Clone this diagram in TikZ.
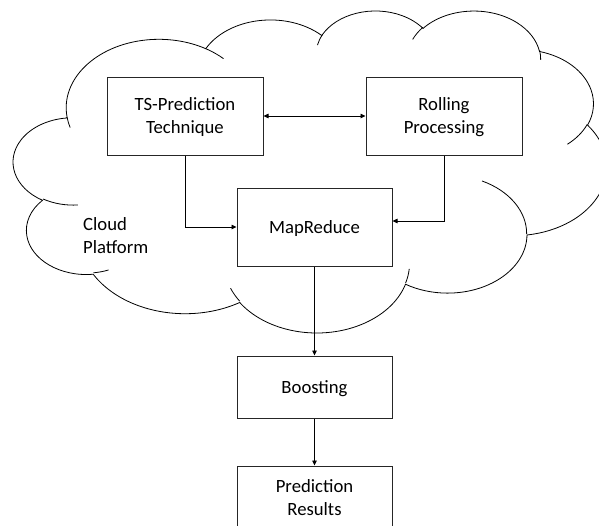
\documentclass[tikz,border=0pt]{standalone}
\usepackage{fontspec}
\setmainfont{Carlito}
\usetikzlibrary{arrows.meta}

% Turns an Office-style elliptical arc (radii, start angle and sweep measured
% as visual angles) into a TikZ arc style with parametric angles.
\newcommand\cldprep[5]{%
  \pgfmathsetmacro\cldts{atan2((#2)*sin(#4),(#3)*cos(#4))}%
  \pgfmathsetmacro\cldte{atan2((#2)*sin((#4)+(#5)),(#3)*cos((#4)+(#5)))}%
  \pgfmathsetmacro\cldd{Mod(\cldte-\cldts,360)}%
  \edef\cldtmp{\noexpand\tikzset{#1/.style={x radius=#2, y radius=#3,
      start angle=\cldts, delta angle=\cldd}}}%
  \cldtmp}

\tikzset{
  blk/.style={draw=black!85, line width=1pt, fill=white, align=center,
    font=\fontsize{18.7}{23}\selectfont, inner sep=0pt, text depth=0pt},
  conn/.style={line width=0.8pt, -{Triangle[length=5pt,width=4.5pt]}},
  biconn/.style={line width=0.8pt, {Triangle[length=5pt,width=4.5pt]}-{Triangle[length=5pt,width=4.5pt]}},
}

\begin{document}
\begin{tikzpicture}[x=1pt,y=-1pt]
\useasboundingbox (0,0) rectangle (599,525);
\clip (0,0) rectangle (599,525);
\fill[white] (0,0) rectangle (599,525);

% cloud outline and its inner lobe strokes
\begin{scope}[shift={(13.5pt,-9.93pt)}, x=1.3728pt, y=-0.7451pt, line width=0.8pt]
  \cldprep{cA}{67.53}{91.90}{-190.4875}{123.7805}
  \cldprep{cB}{53.33}{72.67}{-144.1024}{89.9452}
  \cldprep{cC}{43.65}{59.45}{-145.8079}{99.7230}
  \cldprep{cD}{48.57}{65.95}{-130.9861}{117.2417}
  \cldprep{cE}{53.33}{72.73}{-78.7089}{109.0269}
  \cldprep{cF}{67.75}{92.20}{-46.2673}{130.2690}
  \cldprep{cG}{57.85}{78.67}{0.6250}{114.0333}
  \cldprep{cH}{67.52}{92.15}{22.4516}{115.1726}
  \cldprep{cI}{77.20}{105.43}{66.2426}{75.7110}
  \cldprep{cJ}{43.60}{59.18}{-274.9421}{146.7356}
  \cldprep{cK}{43.45}{59.45}{-246.8285}{152.5189}
  \draw (39.00,143.70) arc[cA] arc[cB] arc[cC] arc[cD] arc[cE] arc[cF]
        arc[cG] arc[cH] arc[cI] arc[cJ] arc[cK] -- cycle;
  \cldprep{sA}{43.45}{59.45}{86.7420}{26.4295}
  \cldprep{sB}{43.60}{59.18}{73.6105}{11.4475}
  \cldprep{sC}{67.52}{92.15}{137.6242}{14.0811}
  \cldprep{sD}{67.52}{92.15}{6.4533}{15.9984}
  \cldprep{sE}{57.85}{78.67}{-70.2924}{70.9174}
  \cldprep{sF}{53.33}{72.73}{30.3180}{27.7515}
  \cldprep{sG}{48.57}{65.95}{-13.7443}{14.8589}
  \cldprep{sH}{48.57}{65.95}{-149.1815}{18.1954}
  \cldprep{sI}{43.65}{59.45}{-163.4943}{17.6864}
  \cldprep{sJ}{67.53}{91.90}{-66.7070}{12.3194}
  \cldprep{sK}{67.53}{91.90}{157.6544}{11.8582}
  \draw (46.93,261.77) arc[sA]
        (69.28,348.99) arc[sB]
        (164.78,390.90) arc[sC]
        (288.27,347.51) arc[sD]
        (341.29,229.54) arc[sE]
        (417.98,153.54) arc[sF]
        (383.24,54.26) arc[sG]
        (290.78,39.52) arc[sH]
        (221.41,47.20) arc[sI]
        (140.00,51.92) arc[sJ]
        (41.27,157.89) arc[sK];
\end{scope}

\node[font=\fontsize{18.7}{23}\selectfont, align=left, anchor=north west, inner sep=0pt]
  (cloudlbl) at (83,217) {Cloud\\Platform};

% process boxes
\node[blk, minimum width=156pt, minimum height=78pt] (ts)   at (185,116)   {TS-Prediction\\Technique};
\node[blk, minimum width=156pt, minimum height=78pt] (roll) at (444,116)   {Rolling\\Processing};
\node[blk, minimum width=155pt, minimum height=78pt] (mapr) at (314.5,227) {MapReduce};
\node[blk, minimum width=155pt, minimum height=62pt] (boost) at (314.5,387) {Boosting};
\node[blk, minimum width=155pt, minimum height=62pt] (pred) at (314.5,497) {Prediction\\Results};

% connectors
\draw[biconn] (ts.east) -- (roll.west);
\draw[conn] (ts.south) |- (mapr.west);
\draw[conn] (roll.south) |- ([yshift=6pt]mapr.east);
\draw[conn] (mapr.south) -- (boost.north);
\draw[conn] (boost.south) -- (pred.north);
\end{tikzpicture}
\end{document}
